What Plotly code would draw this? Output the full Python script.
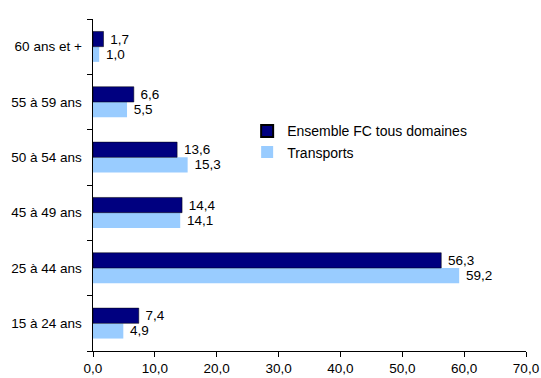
import plotly.graph_objects as go

age_groups = ["15 à 24 ans", "25 à 44 ans", "45 à 49 ans", "50 à 54 ans", "55 à 59 ans", "60 ans et +"]
ensemble_fc = [7.4, 56.3, 14.4, 13.6, 6.6, 1.7]
transports = [4.9, 59.2, 14.1, 15.3, 5.5, 1.0]
x_ticks = [0, 10, 20, 30, 40, 50, 60, 70]

font = dict(family="Liberation Sans, Arial, sans-serif", size=13.5, color="black")

fig = go.Figure()
# Transports trace first so that it sits in the lower slot of each pair
fig.add_trace(go.Bar(
    y=age_groups, x=transports, orientation="h", name="Transports",
    marker=dict(color="#99CCFF", line=dict(width=0)),
    texttemplate=" %{x:.1f}", textposition="outside", cliponaxis=False,
    textfont=font, legendrank=2,
))
fig.add_trace(go.Bar(
    y=age_groups, x=ensemble_fc, orientation="h", name="Ensemble FC tous domaines",
    marker=dict(color="#000080", line=dict(color="black", width=0.5)),
    texttemplate=" %{x:.1f}", textposition="outside", cliponaxis=False,
    textfont=font, legendrank=1,
))

fig.update_layout(
    width=541, height=378,
    margin=dict(l=93, r=15, t=19, b=27, autoexpand=False),
    barmode="group", bargap=0.45, bargroupgap=0,
    separators=", ",
    paper_bgcolor="white", plot_bgcolor="white",
    font=font,
    showlegend=True,
    legend=dict(x=0.356, y=0.71, xanchor="left", yanchor="top",
                bgcolor="rgba(0,0,0,0)", font=dict(size=14),
                itemsizing="constant"),
    xaxis=dict(range=[0, 70], tickvals=x_ticks, tickformat=".1f",
               showgrid=False, zeroline=False, showline=True, linecolor="black",
               linewidth=1, ticks="outside", ticklen=5, tickcolor="black",
               tickfont=font, fixedrange=True, automargin=False),
    yaxis=dict(categoryorder="array", categoryarray=age_groups,
               showgrid=False, showline=True, linecolor="black", linewidth=1,
               ticks="outside", ticklen=5, tickcolor="black", tickson="boundaries",
               tickfont=font, ticksuffix="  ", fixedrange=True, automargin=False),
)

fig.write_html("out.html")
